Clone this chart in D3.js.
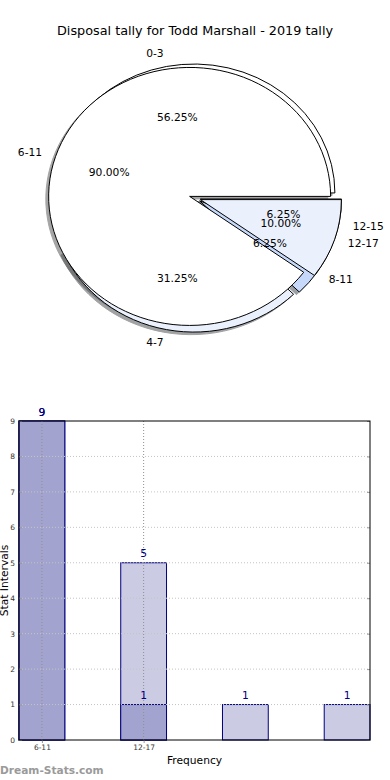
<!DOCTYPE html>
<html>
<head>
<meta charset="utf-8">
<title>Disposal tally</title>
<script src="https://d3js.org/d3.v7.min.js"></script>
<style>
body { margin: 0; background: #fff; }
svg { display: block; font-family: "DejaVu Sans", sans-serif; }
</style>
</head>
<body>
<svg id="chart" width="390" height="780"></svg>
<script>
// data
var pieLabelsA = ["0-3", "4-7", "8-11", "12-15"];
var pieValuesA = [9, 5, 1, 1];
var pieColorsA = ["#ffffff", "#eaf1fd", "#c6d9fa", "#eaf1fd"];

var pieLabelsB = ["6-11", "12-17"];
var pieValuesB = [9, 1];
var pieColorsB = ["#ffffff", "#eaf1fd"];

var barLight = [9, 5, 1, 1];
var barDark = [9, 1];
var xTickLabels = ["6-11", "12-17"];
var yTicks = [0, 1, 2, 3, 4, 5, 6, 7, 8, 9];

var svg = d3.select("#chart");

// title
svg.append("text")
  .attr("x", 195).attr("y", 30)
  .attr("text-anchor", "middle")
  .attr("dominant-baseline", "central")
  .style("font-size", "12.8px")
  .text("Disposal tally for Todd Marshall - 2019 tally");

// ---------- pie (two pies on the same axes, like matplotlib) ----------
var cx = 195, cy = 198, rx = 141, ry = 129;
var explode = 0.04;
var fmt = d3.format(".2f");

function darker(c) {
  var k = d3.rgb(c);
  return d3.rgb(k.r * 0.3, k.g * 0.3, k.b * 0.3).toString();
}

function buildSlices(labels, values, colors) {
  var pie = d3.pie().sort(null).startAngle(0).endAngle(2 * Math.PI);
  var total = d3.sum(values);
  return pie(values).map(function(p, i) {
    // matplotlib: counterclockwise from 3 o'clock
    var t1 = p.startAngle, t2 = p.endAngle, mid = (t1 + t2) / 2;
    var ex = cx + explode * rx * Math.cos(mid);
    var ey = cy - explode * ry * Math.sin(mid);
    return {label: labels[i], value: values[i], pct: values[i] / total * 100,
            t1: t1, t2: t2, mid: mid, ex: ex, ey: ey, color: colors[i]};
  });
}

var slicesA = buildSlices(pieLabelsA, pieValuesA, pieColorsA);
var slicesB = buildSlices(pieLabelsB, pieValuesB, pieColorsB);

var arc = d3.arc().innerRadius(0).outerRadius(1)
  .startAngle(function(d) { return Math.PI / 2 - d.t1; })
  .endAngle(function(d) { return Math.PI / 2 - d.t2; });

var sx = -0.02 * rx, sy = 0.02 * ry;

// shadows first (below every wedge)
[slicesA, slicesB].forEach(function(slices) {
  svg.append("g").selectAll("path")
    .data(slices)
    .enter().append("path")
      .attr("d", arc)
      .attr("transform", function(d) {
        return "translate(" + (d.ex + sx) + "," + (d.ey + sy) + ") scale(" + rx + "," + ry + ")";
      })
      .attr("fill", function(d) { return darker(d.color); })
      .attr("stroke", function(d) { return darker(d.color); })
      .attr("vector-effect", "non-scaling-stroke")
      .attr("opacity", 0.5);
});

// wedges
[slicesA, slicesB].forEach(function(slices) {
  svg.append("g").selectAll("path")
    .data(slices)
    .enter().append("path")
      .attr("d", arc)
      .attr("transform", function(d) {
        return "translate(" + d.ex + "," + d.ey + ") scale(" + rx + "," + ry + ")";
      })
      .attr("fill", function(d) { return d.color; })
      .attr("stroke", "#000")
      .attr("stroke-width", 1)
      .attr("vector-effect", "non-scaling-stroke");
});

// labels and percentages
[slicesA, slicesB].forEach(function(slices) {
  var g = svg.append("g").style("font-size", "10.7px");
  slices.forEach(function(d) {
    var c = Math.cos(d.mid), s = Math.sin(d.mid);
    g.append("text")
      .attr("x", d.ex + 1.1 * rx * c)
      .attr("y", d.ey - 1.1 * ry * s)
      .attr("text-anchor", c > 0 ? "start" : "end")
      .attr("dominant-baseline", "central")
      .text(d.label);
    g.append("text")
      .attr("x", d.ex + 0.6 * rx * c)
      .attr("y", d.ey - 0.6 * ry * s)
      .attr("text-anchor", "middle")
      .attr("dominant-baseline", "central")
      .text(fmt(d.pct) + "%");
  });
});

// ---------- bar chart ----------
var plotLeft = 19, plotRight = 370, plotTop = 421, plotBottom = 740;
var barW = 0.45;
var x = d3.scaleLinear().domain([-barW / 2, 3 + barW / 2]).range([plotLeft, plotRight]);
var y = d3.scaleLinear().domain([0, 9]).range([plotBottom, plotTop]);

function drawBars(values, fill) {
  svg.append("g").selectAll("rect")
    .data(values)
    .enter().append("rect")
      .attr("x", function(d, i) { return x(i - barW / 2); })
      .attr("y", function(d) { return y(d); })
      .attr("width", function(d, i) { return x(i + barW / 2) - x(i - barW / 2); })
      .attr("height", function(d) { return y(0) - y(d); })
      .attr("fill", fill)
      .attr("stroke", "#000080")
      .attr("stroke-width", 1);
}
drawBars(barLight, "#cbcbe4");
drawBars(barDark, "#a3a3cf");

// grid
var grid = svg.append("g");
grid.selectAll("line.h")
  .data(yTicks.slice(1, -1))
  .enter().append("line")
    .attr("x1", plotLeft).attr("x2", plotRight)
    .attr("y1", function(d) { return y(d); })
    .attr("y2", function(d) { return y(d); })
    .attr("stroke", "#c4c4c4")
    .attr("stroke-dasharray", "1,2");
grid.selectAll("line.v")
  .data(xTickLabels)
  .enter().append("line")
    .attr("x1", function(d, i) { return x(i); })
    .attr("x2", function(d, i) { return x(i); })
    .attr("y1", plotTop).attr("y2", plotBottom)
    .attr("stroke", "#8f8f8f")
    .attr("stroke-dasharray", "1,2");

// value labels (both series, so the "9" sits twice like the original)
[barLight, barDark].forEach(function(values) {
  svg.append("g").selectAll("text")
    .data(values)
    .enter().append("text")
      .attr("x", function(d, i) { return x(i); })
      .attr("y", function(d) { return y(d) - 9; })
      .attr("text-anchor", "middle")
      .attr("dominant-baseline", "central")
      .attr("fill", "#000080")
      .style("font-size", "10.7px")
      .text(function(d) { return d; });
});

// axes
var yAxisL = d3.axisLeft(y).tickValues(yTicks).tickSize(-3).tickPadding(4);
var yAxisR = d3.axisRight(y).tickValues(yTicks).tickSize(-3).tickFormat("");
var xAxis = d3.axisBottom(x).tickValues([0, 1])
  .tickFormat(function(d) { return xTickLabels[d]; }).tickSize(3).tickPadding(2);

var gl = svg.append("g").attr("transform", "translate(" + plotLeft + ",0)").call(yAxisL);
var gr = svg.append("g").attr("transform", "translate(" + plotRight + ",0)").call(yAxisR);
var gx = svg.append("g").attr("transform", "translate(0," + plotBottom + ")").call(xAxis);
[gl, gr, gx].forEach(function(g) {
  g.select(".domain").remove();
  g.selectAll(".tick line").attr("stroke", "#999");
  g.selectAll(".tick text").attr("fill", "#333").style("font-size", "7.5px")
    .style("font-family", "DejaVu Sans, sans-serif");
});

// frame
svg.append("rect")
  .attr("x", plotLeft).attr("y", plotTop)
  .attr("width", plotRight - plotLeft).attr("height", plotBottom - plotTop)
  .attr("fill", "none").attr("stroke", "#000").attr("stroke-width", 1);

// axis labels
svg.append("text")
  .attr("x", (plotLeft + plotRight) / 2).attr("y", 760)
  .attr("text-anchor", "middle")
  .attr("dominant-baseline", "central")
  .style("font-size", "10.7px")
  .text("Frequency");

svg.append("text")
  .attr("transform", "translate(4," + (plotTop + plotBottom) / 2 + ") rotate(-90)")
  .attr("text-anchor", "middle")
  .attr("dominant-baseline", "central")
  .style("font-size", "10.7px")
  .text("Stat Intervals");

// watermark
svg.append("text")
  .attr("x", 0).attr("y", 770)
  .attr("dominant-baseline", "central")
  .attr("fill", "#9a9a9a")
  .style("font-size", "10.6px")
  .style("font-weight", "bold")
  .text("Dream-Stats.com");
</script>
</body>
</html>
